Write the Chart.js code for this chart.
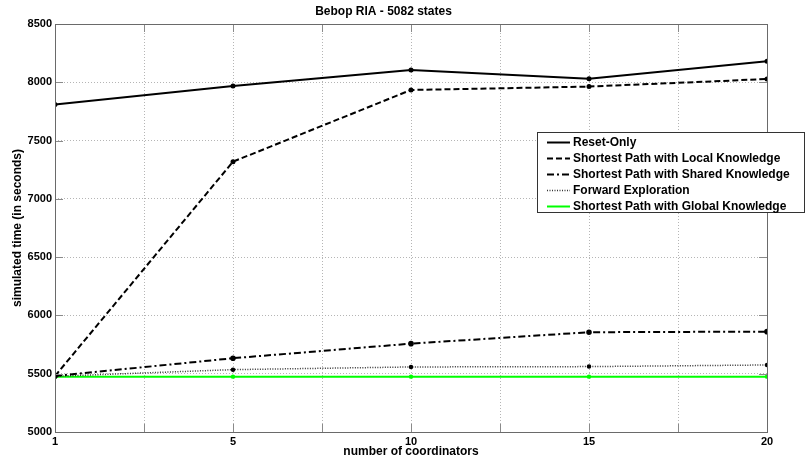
<!DOCTYPE html>
<html>
<head>
<meta charset="utf-8">
<script src="https://cdn.jsdelivr.net/npm/chart.js@4/dist/chart.umd.min.js"></script>
<style>
  body { margin: 0; background: #fff; }
  #chart { display: block; }
</style>
</head>
<body>
<canvas id="chart" width="806" height="461"></canvas>
<script>
// x categories (number of coordinators)
const coordinators = ['1', '5', '10', '15', '20'];

// simulated time (seconds)
const resetOnly          = [7810, 7968, 8105, 8031, 8180];
const localKnowledge     = [5480, 7319, 7934, 7963, 8028];
const sharedKnowledge    = [5480, 5633, 5758, 5856, 5861];
const forwardExploration = [5478, 5535, 5558, 5561, 5575];
const globalKnowledge    = [5475, 5475, 5475, 5475, 5475];

const yTicks = [5000, 5500, 6000, 6500, 7000, 7500, 8000, 8500];

function pts(arr) {
  return arr.map((v, i) => ({ x: i, y: v }));
}

/* frame, inward ticks and legend box, matlab style */
const matlabLook = {
  id: 'matlabLook',
  afterDatasetsDraw(chart) {
    const ctx = chart.ctx;
    const a = chart.chartArea;
    const xs = chart.scales.x, ys = chart.scales.y;

    ctx.save();
    ctx.strokeStyle = '#8a8a8a';
    ctx.lineWidth = 1;
    ctx.setLineDash([]);
    ctx.beginPath();
    for (let v = 0; v <= 4; v += 0.5) {
      const px = Math.round(xs.getPixelForValue(v)) + 0.5;
      ctx.moveTo(px, a.bottom); ctx.lineTo(px, a.bottom - 8);
      ctx.moveTo(px, a.top); ctx.lineTo(px, a.top + 8);
    }
    yTicks.forEach(v => {
      const py = Math.round(ys.getPixelForValue(v)) + 0.5;
      ctx.moveTo(a.left, py); ctx.lineTo(a.left + 8, py);
      ctx.moveTo(a.right, py); ctx.lineTo(a.right - 8, py);
    });
    ctx.stroke();

    ctx.strokeStyle = '#6a6a6a';
    ctx.strokeRect(Math.round(a.left) + 0.5, Math.round(a.top) + 0.5,
      Math.round(a.right - a.left), Math.round(a.bottom - a.top));

    // legend
    const lx = 537, ly = 132, lw = 268, lh = 81;
    ctx.fillStyle = '#fff';
    ctx.fillRect(lx, ly, lw, lh);
    ctx.strokeStyle = '#333';
    ctx.strokeRect(lx + 0.5, ly + 0.5, lw - 1, lh - 1);
    ctx.font = 'bold 12px "Liberation Sans", Arial, sans-serif';
    ctx.textBaseline = 'middle';
    chart.data.datasets.forEach((ds, i) => {
      const y = ly + 10.5 + i * 16;
      ctx.beginPath();
      ctx.setLineDash(ds.borderDash || []);
      ctx.strokeStyle = ds.borderColor;
      ctx.lineWidth = ds.borderWidth;
      ctx.moveTo(lx + 10, y); ctx.lineTo(lx + 33, y);
      ctx.stroke();
      ctx.setLineDash([]);
      ctx.fillStyle = '#000';
      ctx.fillText(ds.label, lx + 36, y);
    });
    ctx.restore();
  }
};

const font = { family: '"Liberation Sans", Arial, sans-serif', weight: 'bold', size: 12 };

const chart = new Chart(document.getElementById('chart'), {
  type: 'line',
  data: {
    datasets: [
      {
        label: 'Reset-Only',
        data: pts(resetOnly),
        borderColor: '#000', borderWidth: 2,
        pointRadius: 1.5, pointBackgroundColor: '#000', pointBorderColor: '#000'
      },
      {
        label: 'Shortest Path with Local Knowledge',
        data: pts(localKnowledge),
        borderColor: '#000', borderWidth: 2, borderDash: [6, 3],
        pointRadius: 1.5, pointBackgroundColor: '#000', pointBorderColor: '#000'
      },
      {
        label: 'Shortest Path with Shared Knowledge',
        data: pts(sharedKnowledge),
        borderColor: '#000', borderWidth: 2, borderDash: [7, 3, 2, 3],
        pointRadius: 1.8, pointBackgroundColor: '#000', pointBorderColor: '#000'
      },
      {
        label: 'Forward Exploration',
        data: pts(forwardExploration),
        borderColor: '#333', borderWidth: 1.5, borderDash: [1, 1.5],
        pointRadius: 1.5, pointBackgroundColor: '#000', pointBorderColor: '#000'
      },
      {
        label: 'Shortest Path with Global Knowledge',
        data: pts(globalKnowledge),
        borderColor: '#00ff00', borderWidth: 2,
        pointRadius: 1.2, pointBackgroundColor: '#00ff00', pointBorderColor: '#00ff00'
      }
    ]
  },
  options: {
    responsive: false,
    animation: false,
    layout: { padding: { left: 0, right: 39, top: 0, bottom: 0 } },
    plugins: {
      legend: { display: false },
      tooltip: { enabled: false },
      title: {
        display: true,
        text: 'Bebop RIA - 5082 states',
        color: '#000',
        font: font,
        padding: { top: 4, bottom: 5.6 }
      }
    },
    scales: {
      x: {
        type: 'linear',
        min: 0, max: 4,
        afterFit: s => { s.height = 29; },
        ticks: {
          stepSize: 0.5,
          autoSkip: false,
          maxRotation: 0,
          padding: 3,
          color: '#000',
          font: { ...font, size: 11 },
          callback: v => Number.isInteger(v) ? coordinators[v] : ''
        },
        grid: { color: '#b5b5b5', drawTicks: false },
        border: { display: false, dash: [1, 2] },
        title: {
          display: true, text: 'number of coordinators', color: '#000', font: font,
          padding: { top: 0, bottom: 2 }
        }
      },
      y: {
        min: 5000, max: 8500,
        afterFit: s => { s.width = 55; },
        ticks: {
          stepSize: 500,
          padding: 3,
          color: '#000',
          font: { ...font, size: 11 },
          callback: v => String(v)
        },
        grid: { color: '#b5b5b5', drawTicks: false },
        border: { display: false, dash: [1, 2] },
        title: {
          display: true, text: 'simulated time (in seconds)', color: '#000', font: font,
          padding: { top: 10, bottom: 0 }
        }
      }
    }
  },
  plugins: [matlabLook]
});
</script>
</body>
</html>
